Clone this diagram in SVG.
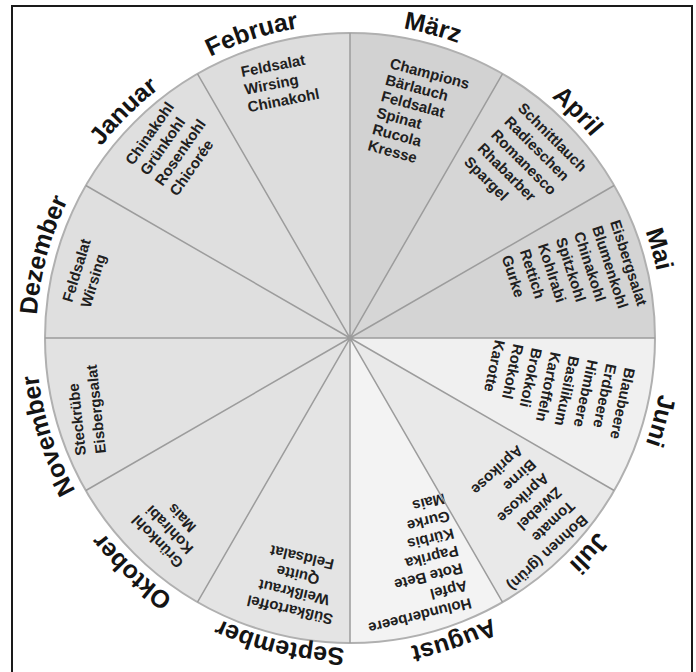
<svg xmlns="http://www.w3.org/2000/svg" width="696" height="672" viewBox="0 0 696 672">
<defs>
<style>
.sec{stroke:none}
.m{font-family:"Liberation Sans",Arial,sans-serif;font-weight:bold;font-size:25px;fill:#141414}
.v{font-family:"Liberation Sans",Arial,sans-serif;font-weight:bold;font-size:15px;fill:#202020}
.div{stroke:#9c9c9c;stroke-width:1.5;fill:none}
</style>
<path id="ring" d="M350,24 A314,314 0 1 1 350,652 A314,314 0 1 1 350,24"/>
<path id="ring2" d="M350,28 A310,310 0 1 1 350,648 A310,310 0 1 1 350,28"/>
</defs>
<rect x="0" y="0" width="696" height="672" fill="#ffffff"/>
<rect x="12" y="6" width="680" height="680" fill="none" stroke="#1a1a1a" stroke-width="2"/>

<g id="sector-januar"><path class="sec" fill="#dfdfdf" d="M350,338 L85.86,185.5 A305,305 0 0 1 197.5,73.86 Z"/>
<text class="v" transform="translate(133,166) rotate(-55)"><tspan x="0" y="0">Chinakohl</tspan><tspan x="0" dy="18">Grünkohl</tspan><tspan x="0" dy="18">Rosenkohl</tspan><tspan x="0" dy="18">Chicorée</tspan></text></g>
<g id="sector-februar"><path class="sec" fill="#dddddd" d="M350,338 L197.5,73.86 A305,305 0 0 1 350,33 Z"/>
<text class="v" transform="translate(242,77) rotate(-11)"><tspan x="0" y="0">Feldsalat</tspan><tspan x="0" dy="18">Wirsing</tspan><tspan x="0" dy="18">Chinakohl</tspan></text></g>
<g id="sector-maerz"><path class="sec" fill="#d2d2d2" d="M350,338 L350,33 A305,305 0 0 1 502.5,73.86 Z"/>
<text class="v" transform="translate(389,68) rotate(15)"><tspan x="0" y="0">Champions</tspan><tspan x="0" dy="17">Bärlauch</tspan><tspan x="0" dy="17">Feldsalat</tspan><tspan x="0" dy="17">Spinat</tspan><tspan x="0" dy="17">Rucola</tspan><tspan x="0" dy="17">Kresse</tspan></text></g>
<g id="sector-april"><path class="sec" fill="#d6d6d6" d="M350,338 L502.5,73.86 A305,305 0 0 1 614.14,185.5 Z"/>
<text class="v" transform="translate(517,109) rotate(45)"><tspan x="0" y="0">Schnittlauch</tspan><tspan x="0" dy="19">Radieschen</tspan><tspan x="0" dy="19">Romanesco</tspan><tspan x="0" dy="19">Rhabarber</tspan><tspan x="0" dy="19">Spargel</tspan></text></g>
<g id="sector-mai"><path class="sec" fill="#d4d4d4" d="M350,338 L614.14,185.5 A305,305 0 0 1 655,338 Z"/>
<text class="v" transform="translate(610,222) rotate(72)"><tspan x="0" y="0">Eisbergsalat</tspan><tspan x="0" dy="19">Blumenkohl</tspan><tspan x="0" dy="19">Chinakohl</tspan><tspan x="0" dy="19">Spitzkohl</tspan><tspan x="0" dy="19">Kohlrabi</tspan><tspan x="0" dy="19">Rettich</tspan><tspan x="0" dy="19">Gurke</tspan></text></g>
<g id="sector-juni"><path class="sec" fill="#f0f0f0" d="M350,338 L655,338 A305,305 0 0 1 614.14,490.5 Z"/>
<text class="v" transform="translate(625,367) rotate(102)"><tspan x="0" y="0">Blaubeere</tspan><tspan x="0" dy="19">Erdbeere</tspan><tspan x="0" dy="19">Himbeere</tspan><tspan x="0" dy="19">Basilikum</tspan><tspan x="0" dy="19">Kartoffeln</tspan><tspan x="0" dy="19">Brokkoli</tspan><tspan x="0" dy="19">Rotkohl</tspan><tspan x="0" dy="19">Karotte</tspan></text></g>
<g id="sector-juli"><path class="sec" fill="#e9e9e9" d="M350,338 L614.14,490.5 A305,305 0 0 1 502.5,602.14 Z"/>
<text class="v" transform="translate(582,514) rotate(137)"><tspan x="0" y="0">Bohnen (grün)</tspan><tspan x="0" dy="19">Tomate</tspan><tspan x="0" dy="19">Zwiebel</tspan><tspan x="0" dy="19">Aprikose</tspan><tspan x="0" dy="19">Birne</tspan><tspan x="0" dy="19">Aprikose</tspan></text></g>
<g id="sector-august"><path class="sec" fill="#f3f3f3" d="M350,338 L502.5,602.14 A305,305 0 0 1 350,643 Z"/>
<text class="v" transform="translate(470,598) rotate(166)"><tspan x="0" y="0">Holunderbeere</tspan><tspan x="0" dy="18">Apfel</tspan><tspan x="0" dy="18">Rote Bete</tspan><tspan x="0" dy="18">Paprika</tspan><tspan x="0" dy="18">Kürbis</tspan><tspan x="0" dy="18">Gurke</tspan><tspan x="0" dy="18">Mais</tspan></text></g>
<g id="sector-september"><path class="sec" fill="#e4e4e4" d="M350,338 L350,643 A305,305 0 0 1 197.5,602.14 Z"/>
<text class="v" text-anchor="middle" transform="translate(291,605) rotate(193)"><tspan x="0" y="0">Süßkartoffel</tspan><tspan x="0" dy="18">Weißkraut</tspan><tspan x="0" dy="18">Quitte</tspan><tspan x="0" dy="18">Feldsalat</tspan></text></g>
<g id="sector-oktober"><path class="sec" fill="#e2e2e2" d="M350,338 L197.5,602.14 A305,305 0 0 1 85.86,490.5 Z"/>
<text class="v" text-anchor="middle" transform="translate(161,538) rotate(226)"><tspan x="0" y="0">Grünkohl</tspan><tspan x="0" dy="17">Kohlrabi</tspan><tspan x="0" dy="17">Mais</tspan></text></g>
<g id="sector-november"><path class="sec" fill="#e2e2e2" d="M350,338 L85.86,490.5 A305,305 0 0 1 45,338 Z"/>
<text class="v" transform="translate(86,455) rotate(264)"><tspan x="0" y="0">Steckrübe</tspan><tspan x="0" dy="20">Eisbergsalat</tspan></text></g>
<g id="sector-dezember"><path class="sec" fill="#dfdfdf" d="M350,338 L45,338 A305,305 0 0 1 85.86,185.5 Z"/>
<text class="v" transform="translate(72,303) rotate(287)"><tspan x="0" y="0">Feldsalat</tspan><tspan x="0" dy="19">Wirsing</tspan></text></g>

<g id="connectors">
<circle cx="350" cy="338" r="305" fill="none" stroke="#b0b0b0" stroke-width="2"/>
<path class="div" d="M350,338 L350,33 M350,338 L502.5,73.86 M350,338 L614.14,185.5 M350,338 L655,338 M350,338 L614.14,490.5 M350,338 L502.5,602.14 M350,338 L350,643 M350,338 L197.5,602.14 M350,338 L85.86,490.5 M350,338 L45,338 M350,338 L85.86,185.5 M350,338 L197.5,73.86"/>
</g>

<g id="month-labels">
<text class="m" text-anchor="middle"><textPath href="#ring" startOffset="1726">Januar</textPath></text>
<text class="m" text-anchor="middle"><textPath href="#ring" startOffset="1874">Februar</textPath></text>
<text class="m" text-anchor="middle"><textPath href="#ring" startOffset="82">März</textPath></text>
<text class="m" text-anchor="middle"><textPath href="#ring" startOffset="247">April</textPath></text>
<text class="m" text-anchor="middle"><textPath href="#ring" startOffset="405">Mai</textPath></text>
<text class="m" text-anchor="middle"><textPath href="#ring" startOffset="575">Juni</textPath></text>
<text class="m" text-anchor="middle"><textPath href="#ring" startOffset="723">Juli</textPath></text>
<text class="m" text-anchor="middle"><textPath href="#ring" startOffset="882">August</textPath></text>
<text class="m" text-anchor="middle"><textPath href="#ring2" startOffset="1044">September</textPath></text>
<text class="m" text-anchor="middle"><textPath href="#ring" startOffset="1222">Oktober</textPath></text>
<text class="m" text-anchor="middle"><textPath href="#ring" startOffset="1381">November</textPath></text>
<text class="m" text-anchor="middle"><textPath href="#ring" startOffset="1562">Dezember</textPath></text>
</g>
</svg>
